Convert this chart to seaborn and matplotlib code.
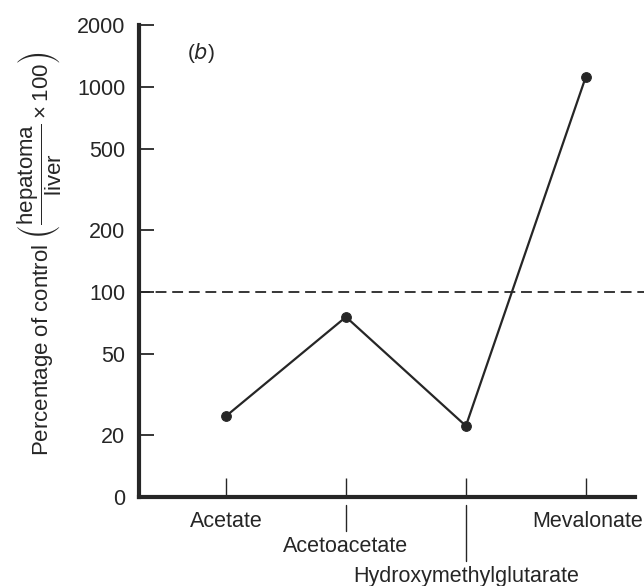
import matplotlib
matplotlib.use("Agg")
import matplotlib.pyplot as plt
import seaborn as sns
import pandas as pd

# Substrate incorporation, hepatoma vs liver (% of control)
substrates = ["Acetate", "Acetoacetate", "Hydroxymethylglutarate", "Mevalonate"]
percent_of_control = [24.8, 75.5, 22.2, 1120]
label_rows = [0, 1, 2, 0]   # staggered label rows under the axis

y_ticks = [10, 20, 50, 100, 200, 500, 1000, 2000]
y_tick_labels = ["0", "20", "50", "100", "200", "500", "1000", "2000"]

ink = "#262626"

sns.set_style("white")
plt.rcParams["font.family"] = ["Liberation Sans", "DejaVu Sans"]
plt.rcParams["mathtext.default"] = "regular"

df = pd.DataFrame({"pos": range(len(substrates)), "pct": percent_of_control})

fig = plt.figure(figsize=(6.44, 5.86), dpi=100)
ax = fig.add_axes([0.216, 0.152, 0.770, 0.805])

sns.lineplot(data=df, x="pos", y="pct", ax=ax, color=ink, linewidth=1.6,
             marker="o", markersize=7, markeredgecolor=ink, markerfacecolor=ink)

ax.set_yscale("log")
ax.set_ylim(10, 2000)
ax.set_xlim(-0.725, 3.41)
ax.minorticks_off()

# reference line at 100 % running out to the page edge
ax.axhline(100, xmin=0, xmax=1.02, color=ink, linewidth=1.3,
           dashes=(6, 3.2), clip_on=False)

ax.set_yticks(y_ticks)
ax.set_yticklabels(y_tick_labels)
ax.tick_params(axis="y", left=True, direction="in", length=11, width=1.3, color=ink,
               labelsize=15.5, labelcolor=ink, pad=10)
ax.set_xticks(range(len(substrates)))
ax.set_xticklabels([""] * len(substrates))
ax.tick_params(axis="x", bottom=True, direction="in", length=14, width=1.0, color=ink)

for side in ["top", "right"]:
    ax.spines[side].set_visible(False)
for side in ["left", "bottom"]:
    ax.spines[side].set_linewidth(3)
    ax.spines[side].set_color(ink)

# staggered category labels with leader lines
trans = ax.get_xaxis_transform()
ax_h = 472.0
row_y = [25, 50, 80]
for i, (name, row) in enumerate(zip(substrates, label_rows)):
    if row > 0:
        ax.plot([i, i], [-8 / ax_h, -(row_y[row] - 16) / ax_h], transform=trans,
                color=ink, linewidth=1.0, clip_on=False)
    ax.annotate(name, xy=(i, 0), xycoords=trans, xytext=(2 if i == 3 else 0, -row_y[row]),
                textcoords="offset pixels", ha="center", va="center",
                fontsize=15.5, color=ink)

ax.text(0.125, 0.942, "($\\it{b}$)", transform=ax.transAxes, fontsize=15,
        color=ink, ha="center", va="center")

ax.set_xlabel("")
ax.set_ylabel(r"Percentage of control $\left(\dfrac{hepatoma}{liver}\times 100\right)$",
              fontsize=16, color=ink, labelpad=10)
ax.yaxis.label.set_y(0.515)

fig.savefig("out.png", dpi=100)
